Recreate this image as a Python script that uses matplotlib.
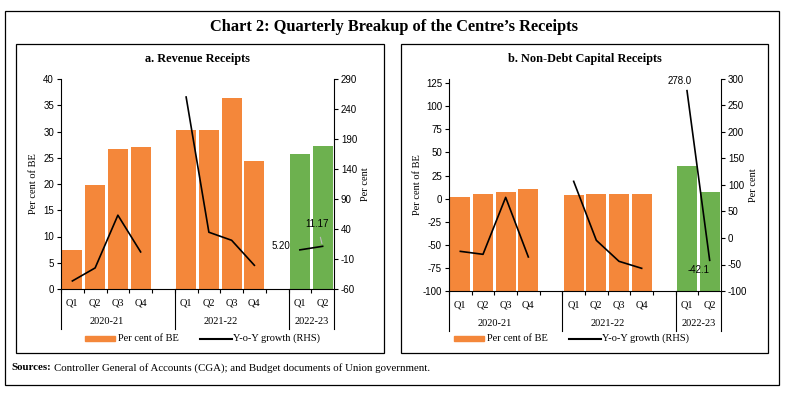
import matplotlib
matplotlib.use("Agg")
import matplotlib.pyplot as plt
import matplotlib.transforms as mtransforms
from matplotlib.patches import Rectangle
from matplotlib.lines import Line2D
from matplotlib.text import Annotation

# quarter slots (gaps between fiscal years)
slots = [0, 1, 2, 3, 5, 6, 7, 8, 10, 11]
quarters = ["Q1", "Q2", "Q3", "Q4", "Q1", "Q2", "Q3", "Q4", "Q1", "Q2"]
years = ["2020-21", "2021-22", "2022-23"]
year_centres = [1.5, 6.5, 10.5]
year_edges = [-0.5, 4.5, 9.5, 11.5]

# a. Revenue receipts
rev_be = [7.5, 19.9, 26.6, 27.0, 30.3, 30.3, 36.4, 24.4, 25.8, 27.3]
rev_growth = [-46.6, -24.9, 63.0, 1.8, 260.0, 34.6, 21.2, -20.5, 5.20, 11.17]

# b. Non-debt capital receipts
ndc_be = [2.2, 5.5, 7.6, 10.9, 4.0, 5.5, 5.5, 5.5, 35.8, 7.3]
ndc_growth = [-25.2, -30.8, 76.7, -35.8, 106.9, -4.4, -44.0, -57.2, 278.0, -42.1]

ORANGE = "#F4873A"
GREEN = "#6DB14F"
SERIF = "Liberation Serif"
SANS = "Liberation Sans"

W, H = 788, 393
fig = plt.figure(figsize=(W / 100, H / 100), dpi=100)


def fx(px):
    return px / W


def fy(py):
    return 1 - py / H


def frame(x0, y0, x1, y1):
    fig.patches.append(Rectangle((fx(x0), fy(y1)), fx(x1) - fx(x0), fy(y0) - fy(y1),
                                 transform=fig.transFigure, fill=False,
                                 edgecolor="black", linewidth=0.9))


def panel(left, top, right, bottom, be, growth, ylim_l, yticks_l, ylim_r, yticks_r,
          bar_base, title, title_x, ylab_l_x, ylab_r_x, legend_x):
    ax = fig.add_axes([fx(left), fy(bottom), fx(right) - fx(left), fy(top) - fy(bottom)])
    colors = [ORANGE] * 8 + [GREEN] * 2
    heights = [v - bar_base for v in be]
    ax.bar(slots, heights, bottom=bar_base, width=0.88, color=colors, zorder=2)
    ax.set_xlim(-0.5, 11.5)
    ax.set_ylim(*ylim_l)
    ax.set_yticks(yticks_l)
    ax.set_yticklabels([str(t) for t in yticks_l], family=SANS, fontsize=7)
    ax.spines["top"].set_visible(False)
    ax.spines["right"].set_visible(False)
    for s in ["left", "bottom"]:
        ax.spines[s].set_linewidth(0.8)
    ax.tick_params(axis="y", length=3, width=0.8, pad=2)

    ax.set_xticks(slots)
    ax.set_xticklabels(quarters, family=SERIF, fontsize=7.5)
    ax.set_xticks([s + 0.5 for s in range(-1, 11)], minor=True)
    ax.tick_params(axis="x", which="major", length=0, pad=7)
    ax.tick_params(axis="x", which="minor", length=3, width=0.8)

    trans = mtransforms.blended_transform_factory(ax.transData, ax.transAxes)
    drop = 40 / (bottom - top)
    for e in year_edges:
        ax.add_line(Line2D([e, e], [0, -drop], transform=trans, color="black",
                           linewidth=0.8, clip_on=False))
    for c, y in zip(year_centres, years):
        ax.text(c, -33 / (bottom - top), y, transform=trans, ha="center", va="center",
                family=SERIF, fontsize=7.5)

    ax2 = ax.twinx()
    ax2.set_ylim(*ylim_r)
    ax2.set_yticks(yticks_r)
    ax2.set_yticklabels([str(t) for t in yticks_r], family=SANS, fontsize=7)
    ax2.tick_params(axis="y", length=3, width=0.8, pad=2)
    for s in ["top", "left", "bottom"]:
        ax2.spines[s].set_visible(False)
    ax2.spines["right"].set_linewidth(0.8)
    for i0, i1 in [(0, 4), (4, 8), (8, 10)]:
        ax2.plot(slots[i0:i1], growth[i0:i1], color="black", linewidth=1.2, zorder=3)

    fig.text(fx(title_x), fy(59), title, ha="center", va="center", family=SERIF,
             fontsize=8.8, fontweight="bold")
    fig.text(fx(ylab_l_x), fy((top + bottom) / 2), "Per cent of BE", rotation=90,
             ha="center", va="center", family=SERIF, fontsize=7.5)
    fig.text(fx(ylab_r_x), fy((top + bottom) / 2), "Per cent", rotation=90,
             ha="center", va="center", family=SERIF, fontsize=7.5)

    # legend
    fig.patches.append(Rectangle((fx(legend_x), fy(341)), fx(30), 5 / H,
                                 transform=fig.transFigure, color=ORANGE))
    fig.text(fx(legend_x + 33), fy(338.5), "Per cent of BE", ha="left", va="center",
             family=SERIF, fontsize=7.5)
    fig.lines.append(Line2D([fx(legend_x + 115), fx(legend_x + 147)], [fy(338.5), fy(338.5)],
                            transform=fig.transFigure, color="black", linewidth=1.5))
    fig.text(fx(legend_x + 148), fy(338.5), "Y-o-Y growth (RHS)", ha="left", va="center",
             family=SERIF, fontsize=7.5)
    return ax, ax2


axa, axa2 = panel(61, 79, 334, 289, rev_be, rev_growth, (0, 40), list(range(0, 41, 5)),
                  (-60, 290), list(range(-60, 291, 50)), 0,
                  "a. Revenue Receipts", 197, 33, 366, 85)
axa2.annotate(f"{rev_growth[8]:.2f}", (slots[8], rev_growth[8]), xytext=(-7, 3),
              textcoords="offset points", ha="right", va="center", family=SANS, fontsize=7)
axa2.annotate(f"{rev_growth[9]:.2f}", (slots[9], rev_growth[9]), xytext=(-4, 16),
              textcoords="offset points", ha="center", va="center", family=SANS, fontsize=7,
              arrowprops=dict(arrowstyle="-", color="#BBBBBB", linewidth=0.8,
                              shrinkA=4, shrinkB=2))

axb, axb2 = panel(449, 79, 721, 291, ndc_be, ndc_growth, (-100, 129.5),
                  list(range(-100, 126, 25)), (-100, 300), list(range(-100, 301, 50)), -100,
                  "b. Non-Debt Capital Receipts", 585, 418, 753, 454)
axb2.annotate(f"{ndc_growth[8]:.1f}", (slots[8], ndc_growth[8]), xytext=(-5, 7),
              textcoords="offset points", ha="center", va="center", family=SANS, fontsize=7)
axb2.annotate(f"{ndc_growth[9]:.1f}", (slots[9], ndc_growth[9]), xytext=(-8, -7),
              textcoords="offset points", ha="center", va="center", family=SANS, fontsize=7)

fig.text(0.5, fy(27), "Chart 2: Quarterly Breakup of the Centre\u2019s Receipts",
         ha="center", va="center", family=SERIF, fontsize=11.8, fontweight="bold")
src = fig.text(fx(11), fy(368), "Sources:", ha="left", va="center", family=SERIF,
               fontsize=7.8, fontweight="bold")
fig.add_artist(Annotation(
    "Controller General of Accounts (CGA); and Budget documents of Union government.",
    xy=(1, 0.5), xycoords=src, xytext=(2, 0), textcoords="offset points",
    ha="left", va="center", family=SERIF, fontsize=7.8))

frame(5, 11, 779, 385)
frame(16, 44, 384, 353)
frame(401, 44, 768, 353)

fig.savefig("out.png", dpi=100)
